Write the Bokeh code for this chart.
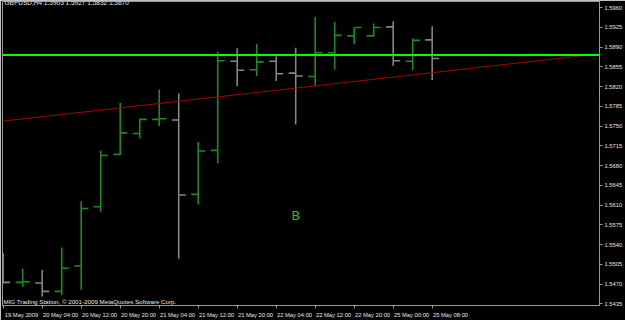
from bokeh.plotting import figure
from bokeh.models import (Range1d, LinearAxis, FixedTicker, Label, Span, Slope,
                          PrintfTickFormatter, ColumnDataSource)
from bokeh.core.properties import value
from bokeh.embed import file_html
from bokeh.resources import INLINE

# ---------------- data ----------------
header_text = "GBPUSD,H4  1.5903 1.5927 1.5832 1.5870"
footer_text = "MIG Trading Station, \u00a9 2001-2009 MetaQuotes Software Corp."

bar_index = list(range(23))
opens = [1.5500, 1.5473, 1.5472, 1.5457, 1.5502, 1.5607, 1.5700, 1.5737, 1.5762, 1.5761, 1.5629, 1.5707,
         1.5865, 1.5850, 1.5865, 1.5844, 1.5838, 1.5880, 1.5910, 1.5910, 1.5926, 1.5865, 1.5903]
highs = [1.5524, 1.5497, 1.5495, 1.5535, 1.5617, 1.5707, 1.5791, 1.5763, 1.5815, 1.5808, 1.5722, 1.5882,
         1.5888, 1.5896, 1.5874, 1.5889, 1.5944, 1.5935, 1.5925, 1.5932, 1.5936, 1.5906, 1.5927]
lows = [1.5471, 1.5465, 1.5448, 1.5450, 1.5460, 1.5598, 1.5699, 1.5728, 1.5750, 1.5515, 1.5611, 1.5684,
        1.5821, 1.5839, 1.5830, 1.5753, 1.5822, 1.5850, 1.5895, 1.5909, 1.5857, 1.5849, 1.5832]
closes = [1.5473, 1.5474, 1.5457, 1.5498, 1.5604, 1.5698, 1.5738, 1.5762, 1.5763, 1.5628, 1.5706, 1.5866,
          1.5849, 1.5864, 1.5843, 1.5839, 1.5880, 1.5911, 1.5925, 1.5925, 1.5866, 1.5902, 1.5870]

time_label_bars = [0, 2, 4, 6, 8, 10, 12, 14, 16, 18, 20, 22]
time_labels = ["19 May 2009", "20 May 04:00", "20 May 12:00", "20 May 20:00", "21 May 04:00",
               "21 May 12:00", "21 May 20:00", "22 May 04:00", "22 May 12:00", "22 May 20:00",
               "25 May 00:00", "25 May 08:00"]

price_ticks = [1.5435, 1.5470, 1.5505, 1.5540, 1.5575, 1.5610, 1.5645, 1.5680, 1.5715, 1.5750,
               1.5785, 1.5820, 1.5855, 1.5890, 1.5925, 1.5960]

hline_price = 1.5876
bid_price = 1.5870
trend_bars = [0, 30]
trend_prices = [1.5759, 1.5876]
mark_bar = [15]
mark_price = [1.5590]
mark_text = ["B"]

# ---------------- styling ----------------
FONT = "Liberation Sans"
UP = "#1f8a1f"
DOWN = "#858585"
AXIS = "#9a9a9a"
TXT = "#e6e6e6"
X0, X1 = -0.036, 30.58
Y0, Y1 = 1.54320, 1.59710
TICK = 0.36
SMALL = "5.8px"

p = figure(width=625, height=320, x_range=Range1d(X0, X1), y_range=Range1d(Y0, Y1),
           output_backend="svg", toolbar_location=None, x_axis_location=None,
           y_axis_location="right", background_fill_color="black", border_fill_color="black",
           min_border_left=2, min_border_top=1, min_border_right=0, min_border_bottom=0,
           outline_line_color=AXIS, outline_line_width=1)
p.grid.visible = False

# right price axis
ya = p.yaxis[0]
ya.ticker = FixedTicker(ticks=price_ticks)
ya.formatter = PrintfTickFormatter(format="%.4f")
ya.major_label_text_font_size = SMALL
ya.major_label_text_font = FONT
ya.major_label_text_color = TXT
ya.axis_line_color = AXIS
ya.major_tick_line_color = AXIS
ya.major_tick_out = 3
ya.major_tick_in = 0
ya.minor_tick_line_color = None
ya.major_label_standoff = 2

# bottom time axis: labels start at their tick (range shifted), tick marks drawn as minor ticks
shift = 0.94
p.extra_x_ranges = {"labels": Range1d(X0 - shift, X1 - shift)}
ax = LinearAxis(x_range_name="labels",
                ticker=FixedTicker(ticks=time_label_bars,
                                   minor_ticks=[b - shift for b in time_label_bars]),
                major_label_overrides={b: t for b, t in zip(time_label_bars, time_labels)},
                axis_line_color=AXIS, major_tick_line_color=None,
                minor_tick_line_color=AXIS, minor_tick_out=3, minor_tick_in=0,
                major_tick_out=0, major_tick_in=0, major_label_standoff=3,
                major_label_text_font_size=SMALL, major_label_text_font=FONT,
                major_label_text_color=TXT)
p.add_layout(ax, "below")

# OHLC bars
colors = [UP if c >= o else DOWN for o, c in zip(opens, closes)]
src = ColumnDataSource(dict(
    x=bar_index, o=opens, h=highs, l=lows, c=closes, col=colors,
    xl=[i - TICK for i in bar_index], xr=[i + TICK for i in bar_index]))
p.segment(x0="x", y0="l", x1="x", y1="h", source=src, line_color="col", line_width=1.6)
p.segment(x0="xl", y0="o", x1="x", y1="o", source=src, line_color="col", line_width=1.6)
p.segment(x0="x", y0="c", x1="xr", y1="c", source=src, line_color="col", line_width=1.6)

# trend line (ray through two anchor points)
grad = (trend_prices[1] - trend_prices[0]) / (trend_bars[1] - trend_bars[0])
p.add_layout(Slope(gradient=grad, y_intercept=trend_prices[0] - grad * trend_bars[0],
                   line_color="#b00000", line_width=1))

# horizontal line
p.add_layout(Span(location=hline_price, dimension="width", line_color="#00ff00", line_width=2))

# text object
p.text(x=mark_bar, y=mark_price, text=mark_text, text_color="#00e000", text_font_size="12px",
       text_font=value(FONT), text_align="center", text_baseline="middle")

# price boxes on the axis
p.add_layout(Label(x=X1, y=bid_price, x_offset=1, text="%.4f" % bid_price, text_font=FONT,
                   text_font_size=SMALL, text_color="black", text_baseline="middle",
                   background_fill_color="#ffffff", padding=1))
p.add_layout(Label(x=X1, y=hline_price, x_offset=1, text="%.4f" % hline_price, text_font=FONT,
                   text_font_size=SMALL, text_color="black", text_baseline="middle",
                   background_fill_color="#00ff00", padding=1))

# header and footer
p.add_layout(Label(x=2, y=303, x_units="screen", y_units="screen", text=header_text, text_font=FONT,
                   text_font_size="6.5px", text_color=TXT, text_baseline="middle"))
p.add_layout(Label(x=1, y=4.5, x_units="screen", y_units="screen", text=footer_text, text_font=FONT,
                   text_font_size="6.2px", text_color=TXT, text_baseline="middle"))

open("out.html", "w").write(file_html(p, INLINE))
